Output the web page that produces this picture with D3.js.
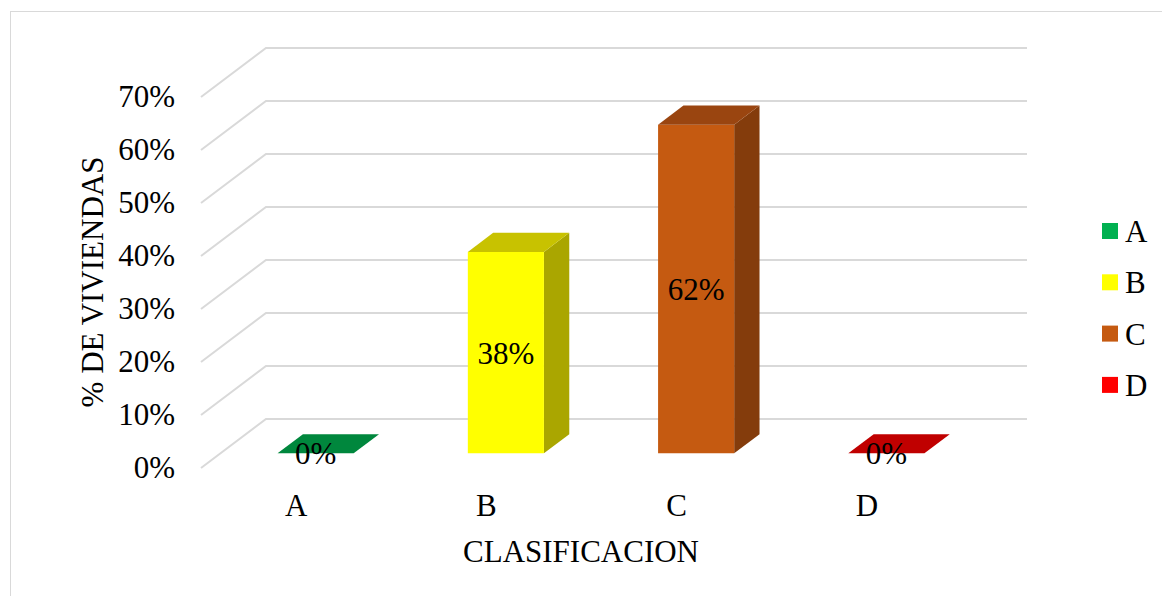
<!DOCTYPE html>
<html>
<head>
<meta charset="utf-8">
<script src="https://cdn.jsdelivr.net/npm/d3@7"></script>
<style>
  html, body { margin: 0; padding: 0; background: #fff; }
  svg { display: block; }
  text { font-family: "Liberation Serif", "Times New Roman", serif; fill: #000; }
</style>
</head>
<body>
<svg id="chart" width="1162" height="596"></svg>
<script>
// Housing classification shares
const categories = ["A", "B", "C", "D"];
const values = [0, 0.38, 0.62, 0];
const valueLabels = ["0%", "38%", "62%", "0%"];
const tickValues = [0, 0.1, 0.2, 0.3, 0.4, 0.5, 0.6, 0.7];
const legendLabels = ["A", "B", "C", "D"];

// Face colours for each bar: front, top, side; plus legend swatch
const frontColors = ["#00B050", "#FFFF00", "#C55A11", "#FF0000"];
const topColors   = ["#00873D", "#C8C200", "#9A4510", "#C00000"];
const sideColors  = ["#007034", "#AAA600", "#843C0C", "#A00000"];
const swatchColors = ["#00B050", "#FFFF00", "#C55A11", "#FF0000"];

const svg = d3.select("#chart");

// Outer chart frame
svg.append("rect")
  .attr("x", 10.5).attr("y", 11.5)
  .attr("width", 1200).attr("height", 700)
  .attr("fill", "none").attr("stroke", "#d9d9d9").attr("stroke-width", 1);

// Front plane scales
const x = d3.scaleBand().domain(categories).range([201, 962]).padding(0);
const y = d3.scaleLinear().domain([0, 0.7]).range([468, 97]);

// Oblique depth projection: d in [0,1] from front to back wall
const DEPTH_X = 65, DEPTH_Y = -49;
const proj = (px, py, d) => [px + DEPTH_X * d, py + DEPTH_Y * d];

// Gridlines: side wall diagonal + back wall horizontal
const grid = svg.append("g");
tickValues.forEach(t => {
  const f = proj(x.range()[0], y(t), 0);
  const b = proj(x.range()[0], y(t), 1);
  const e = proj(x.range()[1], y(t), 1);
  grid.append("path")
    .attr("d", d3.line()([f, b, e]))
    .attr("fill", "none")
    .attr("stroke", "#d9d9d9")
    .attr("stroke-width", 2);
});

// Y tick labels
svg.append("g").selectAll("text")
  .data(tickValues)
  .join("text")
  .attr("x", 175)
  .attr("y", d => y(d) + 10)
  .attr("text-anchor", "end")
  .attr("font-size", 31)
  .text(d => d3.format(".0%")(d));

// Bars
const D0 = 0.3, D1 = 0.69, BAR_FRAC = 0.4;
const bars = svg.append("g");
categories.forEach((c, i) => {
  const cx = x(c) + x.bandwidth() / 2;
  const w = x.bandwidth() * BAR_FRAC;
  const x0 = cx - w / 2, x1 = cx + w / 2;
  const yTop = y(values[i]), yBase = y(0);
  const line = d3.line();
  const ftl = proj(x0, yTop, D0), ftr = proj(x1, yTop, D0);
  const fbl = proj(x0, yBase, D0), fbr = proj(x1, yBase, D0);
  const btl = proj(x0, yTop, D1), btr = proj(x1, yTop, D1);
  const bbr = proj(x1, yBase, D1);

  if (values[i] > 0) {
    // right side face
    bars.append("path").attr("d", line([ftr, btr, bbr, fbr]) + "Z")
      .attr("fill", sideColors[i]);
    // front face
    bars.append("path").attr("d", line([ftl, ftr, fbr, fbl]) + "Z")
      .attr("fill", frontColors[i]);
  }
  // top face
  bars.append("path").attr("d", line([ftl, ftr, btr, btl]) + "Z")
    .attr("fill", topColors[i]);

  // value label centred on the front face
  const midY = (ftl[1] + fbl[1]) / 2;
  bars.append("text")
    .attr("x", (ftl[0] + ftr[0]) / 2)
    .attr("y", midY + 11)
    .attr("text-anchor", "middle")
    .attr("font-size", 31)
    .text(valueLabels[i]);
});

// Category labels
svg.append("g").selectAll("text")
  .data(categories)
  .join("text")
  .attr("x", d => x(d) + x.bandwidth() / 2)
  .attr("y", 516)
  .attr("text-anchor", "middle")
  .attr("font-size", 31)
  .text(d => d);

// Axis titles
svg.append("text")
  .attr("x", 581).attr("y", 562)
  .attr("text-anchor", "middle")
  .attr("font-size", 31)
  .text("CLASIFICACION");

svg.append("text")
  .attr("transform", "translate(103,282) rotate(-90)")
  .attr("text-anchor", "middle")
  .attr("font-size", 31)
  .text("% DE VIVIENDAS");

// Legend
const legend = svg.append("g");
legendLabels.forEach((l, i) => {
  const cy = 231 + i * 51.3;
  legend.append("rect")
    .attr("x", 1102).attr("y", cy - 8)
    .attr("width", 16).attr("height", 16)
    .attr("fill", swatchColors[i]);
  legend.append("text")
    .attr("x", 1125).attr("y", cy + 11)
    .attr("font-size", 31)
    .text(l);
});
</script>
</body>
</html>
